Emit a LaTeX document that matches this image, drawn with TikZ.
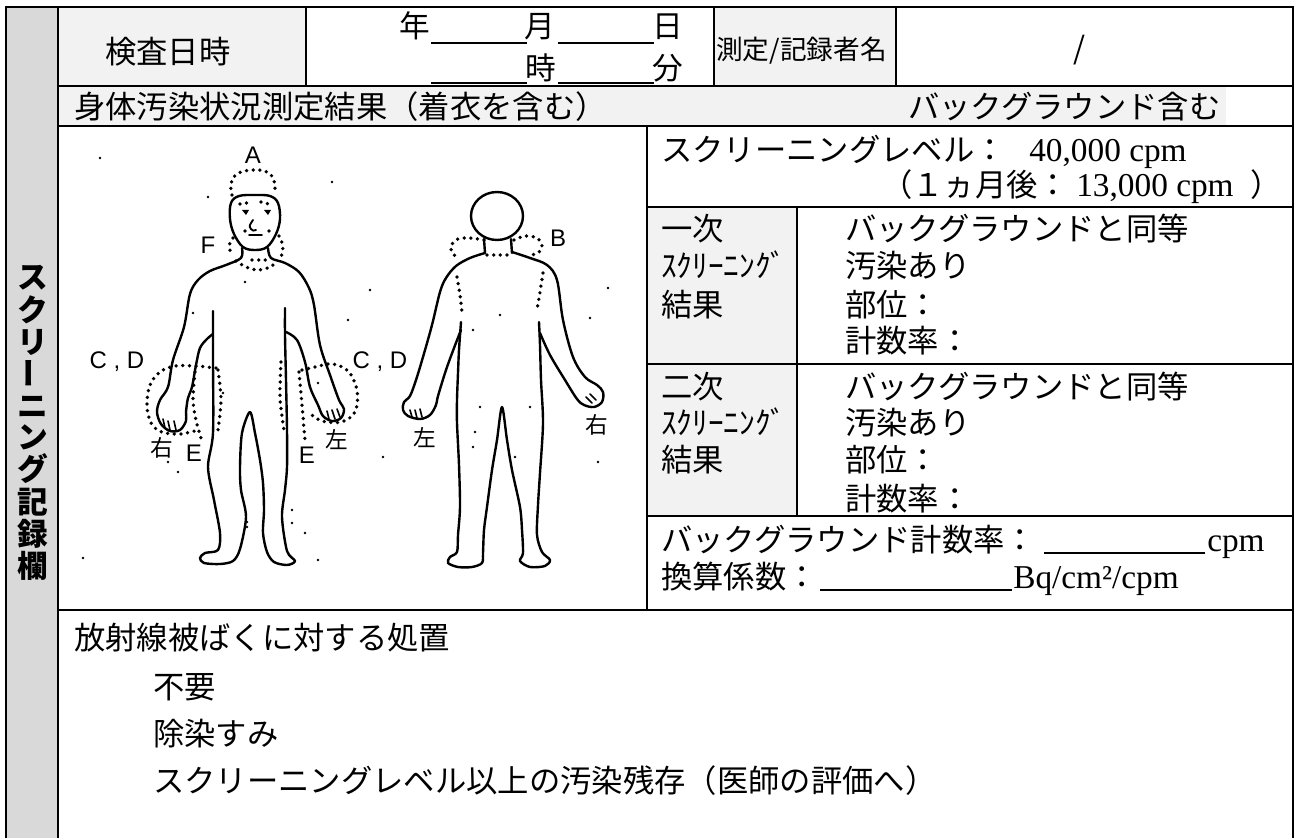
\documentclass[tikz,border=0pt]{standalone}
\usepackage{fontspec}
\setmainfont{Noto Sans CJK JP}
\newfontfamily\serf{Liberation Serif}
\newfontfamily\lsans{Liberation Sans}
\definecolor{cellgray}{HTML}{F2F2F2}
\definecolor{colgray}{HTML}{D9D9D9}
\begin{document}
\begin{tikzpicture}[x=0.75pt,y=-0.75pt,
  frame/.style={line width=2.2pt},
  uline/.style={line width=1.5pt},
  jt/.style={inner sep=0pt,anchor=base west,font=\fontsize{23.5pt}{28pt}\selectfont},
  jh/.style={inner sep=0pt,anchor=base,font=\fontsize{23pt}{28pt}\selectfont},
  lt/.style={inner sep=0pt,anchor=base west,font=\serf\fontsize{25pt}{30pt}\selectfont},
  vl/.style={inner sep=0pt,anchor=center,font=\bfseries\fontsize{23pt}{28pt}\selectfont},
  body/.style={line width=1.8pt,line join=round,line cap=round},
  dots/.style={line width=2.8pt,line cap=round,dash pattern=on 0pt off 5pt},
  lab/.style={inner sep=0pt,anchor=center,font=\lsans\fontsize{18pt}{20pt}\selectfont},
  kan/.style={inner sep=0pt,anchor=center,font=\fontsize{17pt}{19pt}\selectfont},
  speck/.style={fill=black}
]
\useasboundingbox (0,0) rectangle (1296,838);
% ---------- fills
\fill[colgray] (6,7) rectangle (58,838);
\fill[cellgray] (58,7) rectangle (306,86);
\fill[cellgray] (714,7) rectangle (896,86);
\fill[cellgray] (58,86) rectangle (1226,126);
\fill[cellgray] (647,207) rectangle (797,516);
% ---------- grid
\draw[frame] (6,838) -- (6,7) -- (1293,7) -- (1293,838);
\draw[frame] (58,7) -- (58,838);
\draw[frame] (58,86) -- (1293,86);
\draw[frame] (306,7) -- (306,86);
\draw[frame] (714,7) -- (714,86);
\draw[frame] (896,7) -- (896,86);
\draw[frame] (58,126) -- (1293,126);
\draw[frame] (647,126) -- (647,610);
\draw[frame] (647,207) -- (1293,207);
\draw[frame] (797,207) -- (797,516);
\draw[frame] (647,364) -- (1293,364);
\draw[frame] (647,516) -- (1293,516);
\draw[frame] (58,610) -- (1293,610);
% ---------- left vertical label
\node[vl] (v1) at (33,278) {ス};
\node[vl] (v2) at (33,310) {ク};
\node[vl] (v3) at (33,342) {リ};
\node[vl,rotate=90] (v4) at (33,373) {ー};
\node[vl] (v5) at (33,407) {ニ};
\node[vl] (v6) at (33,437) {ン};
\node[vl] (v7) at (33,469) {グ};
\node[vl] (v8) at (33,502) {記};
\node[vl] (v9) at (33,534) {録};
\node[vl] (v10) at (33,566) {欄};
% ---------- header
\node[jt] (kensa) at (105,64) {検査日時};
\node[jh] (nen) at (415,38) {年};
\node[jh] (tsuki) at (540,38) {月};
\node[jh] (hi) at (668,38) {日};
\node[jh] (ji) at (541,80) {時};
\node[jh] (fun) at (668,80) {分};
\draw[uline] (431,43) -- (527,43);
\draw[uline] (558,43) -- (654,43);
\draw[uline] (431,83) -- (527,83);
\draw[uline] (558,83) -- (654,83);
\node[inner sep=0pt,anchor=base west,font=\fontsize{20pt}{24pt}\selectfont] (sokutei) at (716,60) {測定/記録者名};
\node[jh] (slash) at (1079,60) {/};
% ---------- gray row
\node[jt] (shintai) at (74,119) {身体汚染状況測定結果（着衣を含む）};
\node[jt] (bgfukumu) at (908,119) {バックグラウンド含む};
% ---------- screening level
\node[jt] (sclevel) at (661,162) {スクリーニングレベル：};
\node[lt] (sclv) at (1029,162) {40,000 cpm};
\node[jt] (ikkagetsu) at (881,197) {（１ヵ月後：};
\node[lt] (ikkv) at (1076,197) {13,000 cpm};
\node[jt] (kakko) at (1250,197) {）};
% ---------- primary
\node[jt] (ichi1) at (661,240) {一次};
\node[jt] (ichi2) at (661,277) {ｽｸﾘｰﾆﾝｸﾞ};
\node[jt] (ichi3) at (661,316) {結果};
\node[jt] (ia) at (845,240) {バックグラウンドと同等};
\node[jt] (ib) at (845,277) {汚染あり};
\node[jt] (ic) at (845,316) {部位：};
\node[jt] (id) at (845,352) {計数率：};
% ---------- secondary
\node[jt] (ni1) at (661,398) {二次};
\node[jt] (ni2) at (661,434) {ｽｸﾘｰﾆﾝｸﾞ};
\node[jt] (ni3) at (661,471) {結果};
\node[jt] (na) at (845,398) {バックグラウンドと同等};
\node[jt] (nb) at (845,434) {汚染あり};
\node[jt] (nc) at (845,471) {部位：};
\node[jt] (nd) at (845,510) {計数率：};
% ---------- background / conversion
\node[jt] (bgrate) at (661,551) {バックグラウンド計数率：};
\draw[uline] (1044,553) -- (1205,553);
\node[lt] (cpm) at (1207,551) {cpm};
\node[jt] (kansan) at (661,588) {換算係数：};
\draw[uline] (820,590) -- (1012,590);
\node[lt] (bq) at (1013,588) {Bq/cm²/cpm};
% ---------- bottom section
\node[jt] (shochi) at (74,649) {放射線被ばくに対する処置};
\node[jt] (fuyo) at (153,698) {不要};
\node[jt] (josen) at (153,745) {除染すみ};
\node[jt] (zanzon) at (153,792) {スクリーニングレベル以上の汚染残存（医師の評価へ）};
% ================= FRONT FIGURE
% head
\draw[body] plot[smooth cycle,tension=0.6] coordinates {(243,247) (234,234) (230,219) (231,203) (239,196) (255,195) (270,196) (278,203) (280,219) (276,234) (267,247) (255,250)};
% face
\fill (242,210) -- (249,210) -- (246,215) -- cycle;
\fill (264,210) -- (271,210) -- (268,215) -- cycle;
\draw[dots] (240,204) -- (253,202);
\draw[dots] (261,202) -- (273,205);
\draw[body,line width=1.4pt] (253,220) .. controls (249,226) .. (251,229) .. controls (253,231) .. (256,230);
\draw[body,line width=1.4pt] (249,235) -- (262,235);
\draw[dots] (245,231) -- (247,233);
\draw[dots] (269,231) -- (271,233);
% left shoulder and arm
\draw[body] plot[smooth,tension=0.55] coordinates {(242,248) (241,258) (226,265) (210,271) (198,280) (190,294) (184,327) (173,360) (168,387) (160,400) (157,412) (161,424) (170,431) (180,430) (186,421) (186,412) (188,398) (192,387) (196,365) (200,348) (207,339) (213,334)};
\draw[body,line width=1.2pt] (163,419) -- (165,428) (168,421) -- (170,430) (174,421) -- (176,430);
% torso and legs
\draw[body] plot[smooth,tension=0.5] coordinates {(213,311) (213,360) (213,433) (208,467) (214,500) (220,533) (218,550) (205,553) (200,558) (204,563) (220,564) (233,561) (240,549) (246,517) (241,490) (240,467) (242,433) (250,412) (255,433) (260,460) (263,483) (264,510) (263,533) (267,552) (274,562) (287,565) (295,561) (287,551) (282,517) (285,490) (287,467) (287,430) (286,380) (285,335) (285,308)};
% right shoulder and arm
\draw[body] plot[smooth,tension=0.55] coordinates {(286,332) (297,340) (305,362) (310,387) (318,405) (323,416) (332,421) (341,418) (344,409) (339,400) (330,375) (320,345) (314,305) (309,288) (299,272) (285,263) (271,258) (268,248)};
\draw[body,line width=1.2pt] (327,411) -- (329,419) (332,410) -- (335,419) (337,409) -- (340,417);
% dotted zones front
\draw[dots] plot[smooth,tension=0.7] coordinates {(232,195) (231,184) (237,174) (252,170) (267,172) (274,181) (275,195)};
\draw[dots] plot[smooth] coordinates {(233,238) (229,246) (232,256)};
\draw[dots] plot[smooth] coordinates {(279,236) (283,246) (281,258)};
\draw[dots] plot[smooth] coordinates {(236,261) (246,267) (258,270) (270,267) (278,261)};
\draw[dots] (252,260) -- (267,260);
\draw[dots] plot[smooth,tension=0.6] coordinates {(216,368) (195,366) (175,366) (160,372) (150,385) (147,405) (151,423) (162,432) (180,434) (198,430)};
\draw[dots] plot[smooth] coordinates {(195,372) (193,400) (196,420) (201,438)};
\draw[dots] plot[smooth] coordinates {(218,370) (221,400) (218,430)};
\draw[dots] plot[smooth] coordinates {(281,362) (280,398) (284,430)};
\draw[dots] plot[smooth] coordinates {(299,372) (302,405) (305,440)};
\draw[dots] plot[smooth,tension=0.6] coordinates {(302,370) (315,367) (332,364) (348,371) (357,390) (355,412) (341,422) (322,421) (312,415)};
% labels front
\node[lab] (la) at (253,155) {A};
\node[lab] (lf) at (208,245) {F};
\node[lab] (lcd1) at (117,362) {C , D};
\node[lab] (lcd2) at (380,362) {C , D};
\node[kan] (lr1) at (162,448) {右};
\node[lab] (le1) at (194,453) {E};
\node[lab] (le2) at (307,455) {E};
\node[kan] (ll1) at (337,440) {左};
% ================= BACK FIGURE
\draw[body] (497,216) ellipse [x radius=26,y radius=24];
\draw[body] (484,239) -- (485,253);
\draw[body] (511,239) -- (512,253);
\draw[body] plot[smooth,tension=0.55] coordinates {(485,253) (470,258) (456,266) (446,278) (440,292) (432,325) (423,357) (416,380) (410,396) (404,402) (403,410) (408,416) (420,419) (430,415) (436,405) (438,396) (446,370) (454,348) (461,330)};
\draw[body,line width=1.2pt] (410,410) -- (412,417) (415,410) -- (417,418) (420,409) -- (422,417);
\draw[body] plot[smooth,tension=0.5] coordinates {(461,322) (459,350) (458,373) (457,400) (457,423) (459,465) (460,507) (458,535) (457,552) (450,557) (448,563) (458,567) (472,567) (482,563) (483,553) (484,530) (487,507) (492,470) (497,440) (502,407) (507,440) (512,470) (520,507) (522,530) (523,553) (520,561) (530,567) (545,566) (550,560) (542,552) (537,535) (538,505) (540,473) (543,423) (541,380) (540,345) (539,322)};
\draw[body] plot[smooth,tension=0.55] coordinates {(540,333) (550,355) (565,380) (577,399) (584,405) (594,407) (602,402) (603,392) (597,385) (585,377) (573,357) (563,320) (557,280) (547,265) (530,258) (512,252)};
\draw[body,line width=1.2pt] (590,394) -- (596,400) (586,397) -- (592,403);
% dotted zones back
\draw[dots] plot[smooth] coordinates {(484,240) (470,238) (458,239) (451,246) (453,254) (460,258)};
\draw[dots] plot[smooth] coordinates {(514,240) (525,236) (537,238) (542,246) (538,253) (530,255)};
\draw[dots] (487,255) -- (511,255);
\draw[dots] plot[smooth] coordinates {(457,277) (460,295) (462,313)};
\draw[dots] plot[smooth] coordinates {(543,273) (540,292) (537,310)};
% labels back
\node[lab] (lb) at (558,238) {B};
\node[kan] (ll2) at (425,438) {左};
\node[kan] (lr2) at (597,425) {右};
% ---------- specks
\foreach \p in {(100,158),(208,197),(332,182),(348,320),(193,313),(245,282),(370,290),(223,393),(318,383),(178,472),(168,462),(83,558),(247,522),(247,527),(292,510),(292,523),(305,533),(318,560),(383,457),(608,288),(590,318),(500,315),(473,330),(480,407),(530,407),(475,432),(473,447),(515,457),(598,462)}
  \fill[speck] \p circle (1.3);
\end{tikzpicture}
\end{document}
